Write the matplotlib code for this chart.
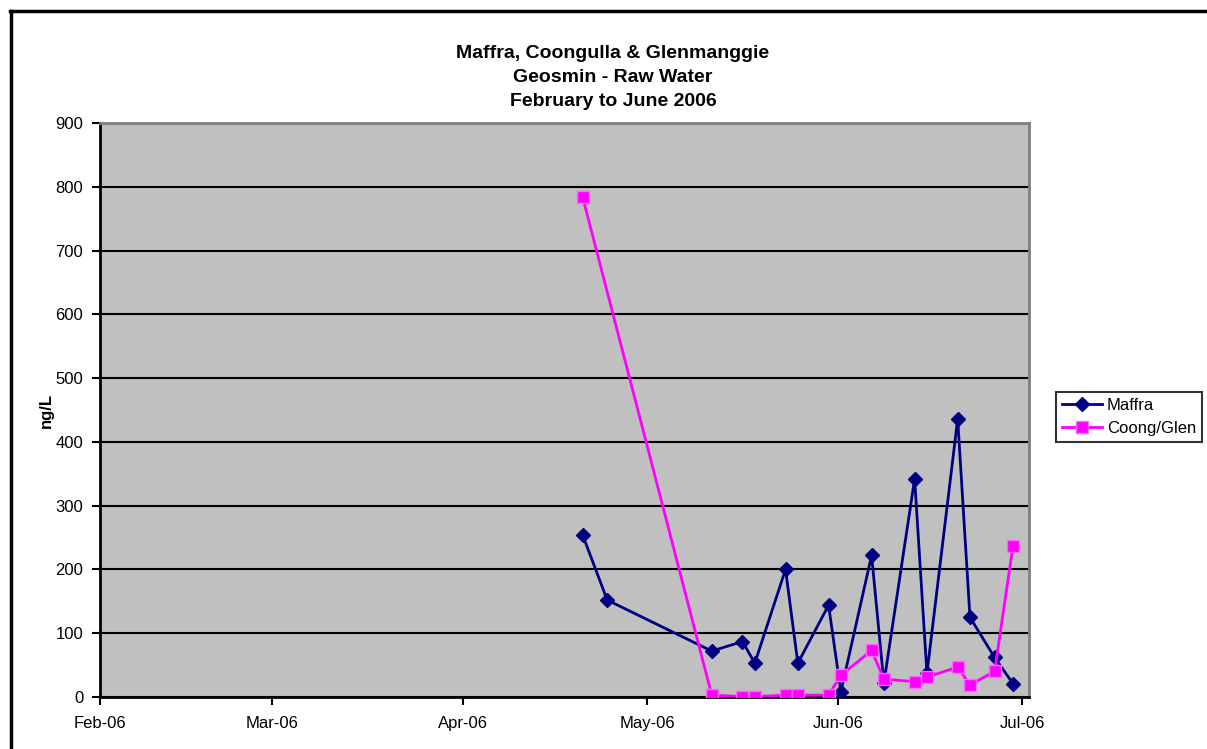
import numpy as np
import pandas as pd
import matplotlib
matplotlib.use("Agg")
import matplotlib.pyplot as plt
import matplotlib.dates as mdates
from matplotlib.lines import Line2D

plt.rcParams['font.family'] = ['Liberation Sans', 'DejaVu Sans']

# Dane
maffra_dates = ["2006-04-20", "2006-04-24", "2006-05-11", "2006-05-16", "2006-05-18",
                "2006-05-23", "2006-05-25", "2006-05-30", "2006-06-01", "2006-06-06",
                "2006-06-08", "2006-06-13", "2006-06-15", "2006-06-20", "2006-06-22",
                "2006-06-26", "2006-06-29"]
maffra_vals = [254, 152, 72, 87, 53, 200, 53, 144, 8, 222, 22, 342, 37, 436, 125, 62, 21]

coong_dates = ["2006-04-20", "2006-05-11", "2006-05-16", "2006-05-18", "2006-05-23",
               "2006-05-25", "2006-05-30", "2006-06-01", "2006-06-06", "2006-06-08",
               "2006-06-13", "2006-06-15", "2006-06-20", "2006-06-22", "2006-06-26",
               "2006-06-29"]
coong_vals = [784, 3, 0.5, 0.5, 3, 3, 3, 34, 73, 28, 24, 31, 47, 19, 40, 237]

tick_dates = ["2006-02-01", "2006-03-01", "2006-04-01", "2006-05-01", "2006-06-01", "2006-07-01"]
title_lines = ["Maffra, Coongulla & Glenmanggie", "Geosmin - Raw Water", "February to June 2006"]

# punkty w srodku dnia (jak w Excelu)
half_day = pd.Timedelta(hours=12)
x_maffra = pd.to_datetime(maffra_dates) + half_day
x_coong = pd.to_datetime(coong_dates) + half_day
ticks = pd.to_datetime(tick_dates)

W, H = 1207, 749
fig = plt.figure(figsize=(W / 100, H / 100), dpi=100)
ax = fig.add_axes([100 / W, 1 - 697 / H, (1029 - 100) / W, (697 - 123) / H])
ax.set_facecolor("#C0C0C0")

ax.plot(x_maffra, maffra_vals, color="#000080", lw=2, marker="D", ms=7,
        mfc="#000080", mec="#000080", label="Maffra", zorder=3)
ax.plot(x_coong, coong_vals, color="#FF00FF", lw=2, marker="s", ms=8,
        mfc="#FF00FF", mec="#FF66FF", mew=1, label="Coong/Glen", zorder=4)

ax.set_ylim(0, 900)
ax.set_yticks(np.arange(0, 901, 100))
ax.set_xlim(ticks[0], ticks[-1] + pd.Timedelta(days=1.1))
ax.set_xticks(ticks)
ax.xaxis.set_major_formatter(mdates.DateFormatter("%b-%y"))
ax.yaxis.grid(True, color="black", lw=1.5)
ax.set_axisbelow(True)

for s in ["top", "right"]:
    ax.spines[s].set_color("#808080")
    ax.spines[s].set_linewidth(2)
for s in ["left", "bottom"]:
    ax.spines[s].set_color("black")
    ax.spines[s].set_linewidth(2)

ax.tick_params(axis="both", direction="out", length=6, width=1.5, labelsize=12, colors="black")
ax.tick_params(axis="y", pad=6)
ax.tick_params(axis="x", pad=8)
ax.set_ylabel("ng/L", fontsize=12, fontweight="bold", labelpad=1)

for i, t in enumerate(title_lines):
    fig.text(613 / W, 1 - (53 + 24.5 * i) / H, t, ha="center", va="center",
             fontsize=14, fontweight="bold")

leg = fig.legend(loc="center left", bbox_to_anchor=(1056 / W, 1 - 417 / H),
                 fontsize=12, frameon=True, fancybox=False, edgecolor="black",
                 borderpad=0.35, handlelength=2.4, handletextpad=0.3, labelspacing=0.45,
                 borderaxespad=0)
leg.get_frame().set_linewidth(1.5)

# ramka wykresu
fig.add_artist(Line2D([10 / W, 1], [1 - 10.5 / H, 1 - 10.5 / H], color="black", lw=2.5,
                      transform=fig.transFigure))
fig.add_artist(Line2D([10.5 / W, 10.5 / W], [0, 1 - 10.5 / H], color="black", lw=2.5,
                      transform=fig.transFigure))

fig.savefig("out.png", dpi=100)
